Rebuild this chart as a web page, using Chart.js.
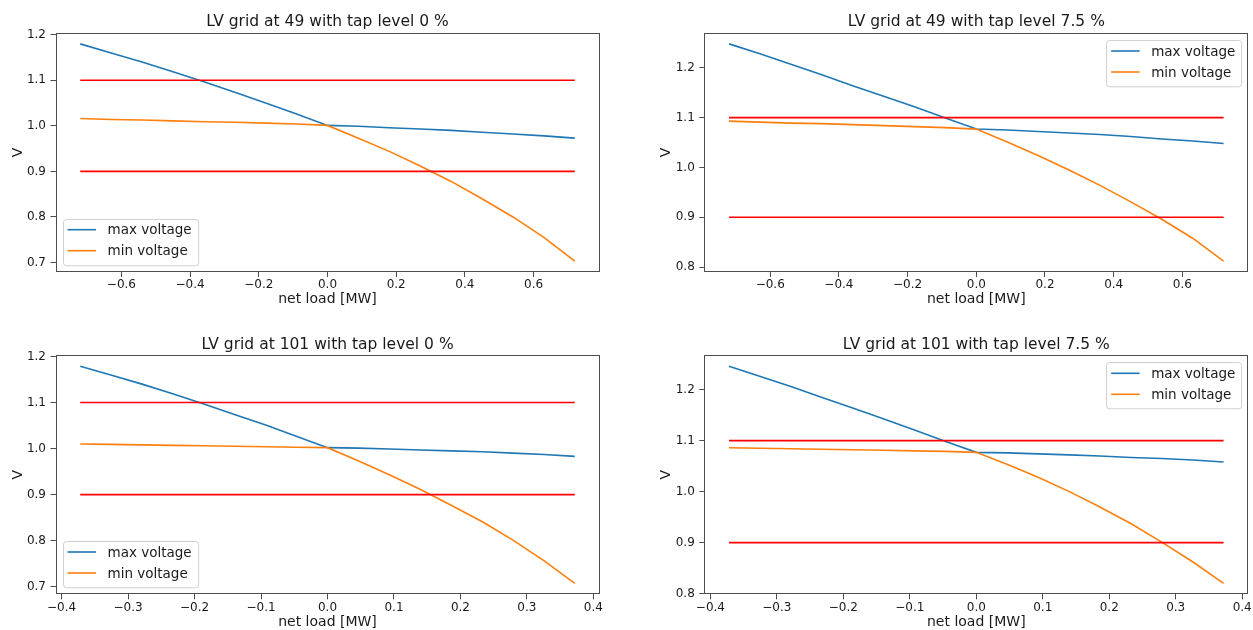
<!DOCTYPE html>
<html>
<head>
<meta charset="utf-8">
<title>LV grid voltage vs net load</title>
<script src="https://cdn.jsdelivr.net/npm/chart.js@4.4.1/dist/chart.umd.min.js"></script>
<style>
  html, body { margin: 0; padding: 0; background: #fff; }
  body { width: 1253px; height: 630px; position: relative; overflow: hidden; }
  canvas { position: absolute; }
</style>
</head>
<body>
<canvas id="c49_0"></canvas>
<canvas id="c49_75"></canvas>
<canvas id="c101_0"></canvas>
<canvas id="c101_75"></canvas>
<script>
// ------------------------- data -------------------------
const seriesNames = ['max voltage', 'min voltage'];
const limits = [1.1, 0.9];

const netLoad49 = [-0.72, -0.63, -0.54, -0.45, -0.36, -0.27, -0.18, -0.09, 0, 0.09, 0.18, 0.27, 0.36, 0.45, 0.54, 0.63, 0.72];
const maxV49tap0 = [1.180, 1.160, 1.140, 1.119, 1.097, 1.074, 1.050, 1.026, 1.001, 0.999, 0.996, 0.993, 0.990, 0.986, 0.982, 0.978, 0.973];
const minV49tap0 = [1.016, 1.014, 1.013, 1.011, 1.009, 1.008, 1.006, 1.004, 1.001, 0.973, 0.944, 0.912, 0.878, 0.840, 0.800, 0.755, 0.703];
const maxV49tap75 = [1.248, 1.228, 1.207, 1.186, 1.164, 1.143, 1.122, 1.099, 1.077, 1.075, 1.072, 1.069, 1.066, 1.062, 1.057, 1.053, 1.048];
const minV49tap75 = [1.093, 1.091, 1.089, 1.088, 1.086, 1.084, 1.082, 1.080, 1.077, 1.051, 1.024, 0.995, 0.964, 0.931, 0.896, 0.858, 0.812];

const netLoad101 = [-0.372, -0.326, -0.279, -0.233, -0.186, -0.140, -0.093, -0.047, 0, 0.047, 0.093, 0.140, 0.186, 0.233, 0.279, 0.326, 0.372];
const maxV101tap0 = [1.179, 1.160, 1.140, 1.119, 1.097, 1.074, 1.051, 1.027, 1.002, 1.001, 0.999, 0.997, 0.995, 0.993, 0.990, 0.987, 0.983];
const minV101tap0 = [1.010, 1.009, 1.008, 1.007, 1.006, 1.005, 1.004, 1.003, 1.002, 0.973, 0.943, 0.911, 0.877, 0.841, 0.801, 0.756, 0.707];
const maxV101tap75 = [1.246, 1.226, 1.206, 1.185, 1.164, 1.143, 1.121, 1.099, 1.077, 1.076, 1.074, 1.072, 1.070, 1.067, 1.065, 1.062, 1.058];
const minV101tap75 = [1.086, 1.085, 1.084, 1.083, 1.082, 1.081, 1.080, 1.079, 1.077, 1.053, 1.028, 1.000, 0.970, 0.937, 0.901, 0.862, 0.820];

const xTicks49 = [-0.6, -0.4, -0.2, 0, 0.2, 0.4, 0.6];
const xTicks101 = [-0.4, -0.3, -0.2, -0.1, 0, 0.1, 0.2, 0.3, 0.4];
const yTicksTap0 = [0.7, 0.8, 0.9, 1.0, 1.1, 1.2];
const yTicksTap75 = [0.8, 0.9, 1.0, 1.1, 1.2];

// ------------------------- look -------------------------
const BLUE = '#1f77b4', ORANGE = '#ff7f0e', RED = '#ff0000';
const TEXT = '#1a1a1a', AXIS = '#4d4d4d';
const FONT = "'DejaVu Sans', sans-serif";
Chart.defaults.font.family = FONT;
Chart.defaults.color = TEXT;

// layout of the 4 panels (canvas placement + fixed axis sizes)
const panels = [
    { id: 'c49_0',  left: 0,   top: 0,   w: 630, h: 315, title: 'LV grid at 49 with tap level 0 %',
      xs: netLoad49, maxV: maxV49tap0, minV: minV49tap0, xTicks: xTicks49, yTicks: yTicksTap0,
      legend: 'll', yAxisW: 55.5, padRight: 30.5, titlePad: { top: 12.4, bottom: 2 }, xAxisH: 43, xTitlePad: 9, yTitlePad: 10.9 },
    { id: 'c49_75', left: 630, top: 0,   w: 623, h: 315, title: 'LV grid at 49 with tap level 7.5 %',
      xs: netLoad49, maxV: maxV49tap75, minV: minV49tap75, xTicks: xTicks49, yTicks: yTicksTap75,
      legend: 'ur', yAxisW: 74.3, padRight: 4.7, titlePad: { top: 12.4, bottom: 2 }, xAxisH: 43, xTitlePad: 9, yTitlePad: 29.7 },
    { id: 'c101_0', left: 0,   top: 315, w: 630, h: 315, title: 'LV grid at 101 with tap level 0 %',
      xs: netLoad101, maxV: maxV101tap0, minV: minV101tap0, xTicks: xTicks101, yTicks: yTicksTap0,
      legend: 'll', yAxisW: 55.5, padRight: 30.5, titlePad: { top: 20.7, bottom: 1 }, xAxisH: 35.7, xTitlePad: 0.3, yTitlePad: 10.9 },
    { id: 'c101_75', left: 630, top: 315, w: 623, h: 315, title: 'LV grid at 101 with tap level 7.5 %',
      xs: netLoad101, maxV: maxV101tap75, minV: minV101tap75, xTicks: xTicks101, yTicks: yTicksTap75,
      legend: 'ur', yAxisW: 74.3, padRight: 4.7, titlePad: { top: 20.7, bottom: 1 }, xAxisH: 35.7, xTitlePad: 0.3, yTitlePad: 29.7 }
];

function fmtTick(v) {
    return v.toFixed(1).replace('-', '\u2212');
}

// frame around the plot area + matplotlib-like legend inside it
const boxPlugin = {
    id: 'boxPlugin',
    afterDatasetsDraw(chart, args, opts) {
        const ctx = chart.ctx;
        const a = chart.chartArea;
        ctx.save();
        ctx.strokeStyle = AXIS;
        ctx.lineWidth = 1;
        const l = Math.round(a.left) + 0.5, t = Math.round(a.top) + 0.5;
        const r = Math.round(a.right) - 0.5, b = Math.round(a.bottom) - 0.5;
        ctx.strokeRect(l, t, r - l, b - t);

        // legend
        const items = chart.data.datasets.filter(d => seriesNames.includes(d.label));
        ctx.font = '13.5px ' + FONT;
        const textW = Math.max(...items.map(d => ctx.measureText(d.label).width));
        const rowH = 21, padX = 5, lineLen = 28.5, gap = 11.5;
        const w = padX + lineLen + gap + textW + 6;
        const h = items.length * rowH + 4.3;
        const x = opts.corner === 'll' ? a.left + 7 : a.right - 7 - w;
        const y = opts.corner === 'll' ? a.bottom - 7 - h : a.top + 7;
        ctx.beginPath();
        ctx.roundRect(Math.round(x) + 0.5, Math.round(y) + 0.5, w, h, 3);
        ctx.fillStyle = 'rgba(255,255,255,0.8)';
        ctx.fill();
        ctx.strokeStyle = '#d0d0d0';
        ctx.stroke();
        ctx.textBaseline = 'middle';
        ctx.textAlign = 'left';
        items.forEach((d, i) => {
            const cy = y + 11 + i * rowH;
            ctx.beginPath();
            ctx.strokeStyle = d.borderColor;
            ctx.lineWidth = d.borderWidth;
            ctx.moveTo(x + padX, cy);
            ctx.lineTo(x + padX + lineLen, cy);
            ctx.stroke();
            ctx.fillStyle = TEXT;
            ctx.fillText(d.label, x + padX + lineLen + gap, cy + 1);
        });
        ctx.restore();
    }
};

function makePanel(p) {
    const cv = document.getElementById(p.id);
    cv.width = p.w;
    cv.height = p.h;
    cv.style.left = p.left + 'px';
    cv.style.top = p.top + 'px';

    // matplotlib style 5% margins around the data
    const allY = p.maxV.concat(p.minV, limits);
    const yLo = Math.min(...allY), yHi = Math.max(...allY);
    const xLo = p.xs[0], xHi = p.xs[p.xs.length - 1];
    const mx = (xHi - xLo) * 0.05, my = (yHi - yLo) * 0.05;

    const datasets = [
        { label: seriesNames[0], data: p.xs.map((x, i) => ({ x: x, y: p.maxV[i] })),
          borderColor: BLUE, borderWidth: 1.6, order: 2 },
        { label: seriesNames[1], data: p.xs.map((x, i) => ({ x: x, y: p.minV[i] })),
          borderColor: ORANGE, borderWidth: 1.6, order: 1 }
    ];
    limits.forEach(v => {
        datasets.push({ label: 'limit ' + v, data: [{ x: xLo, y: v }, { x: xHi, y: v }],
            borderColor: RED, borderWidth: 1.6, order: 0 });
    });

    new Chart(cv, {
        type: 'line',
        data: { datasets: datasets },
        options: {
            responsive: false,
            animation: false,
            devicePixelRatio: 1,
            events: [],
            elements: { point: { radius: 0 }, line: { fill: false, tension: 0 } },
            layout: { padding: { left: 0, right: p.padRight, top: 0, bottom: 0 } },
            plugins: {
                legend: { display: false },
                tooltip: { enabled: false },
                title: {
                    display: true, text: p.title, fullSize: false, color: TEXT,
                    font: { size: 15.5, weight: 'normal' }, padding: p.titlePad
                },
                boxPlugin: { corner: p.legend }
            },
            scales: {
                x: {
                    type: 'linear', min: xLo - mx, max: xHi + mx,
                    afterBuildTicks: s => { s.ticks = p.xTicks.map(v => ({ value: v })); },
                    afterFit: s => { s.height = p.xAxisH; },
                    ticks: { callback: v => fmtTick(v), font: { size: 12 }, padding: 1, maxRotation: 0, autoSkip: false, color: TEXT },
                    grid: { display: true, drawOnChartArea: false, drawTicks: true, tickLength: 5, color: AXIS },
                    border: { display: false },
                    title: { display: true, text: 'net load [MW]', color: TEXT,
                             font: { size: 14, lineHeight: 1 }, padding: { top: 0, bottom: p.xTitlePad } }
                },
                y: {
                    type: 'linear', min: yLo - my, max: yHi + my,
                    afterBuildTicks: s => { s.ticks = p.yTicks.map(v => ({ value: v })); },
                    afterFit: s => { s.width = p.yAxisW; },
                    ticks: { callback: v => fmtTick(v), font: { size: 12 }, padding: 4.5, autoSkip: false, color: TEXT },
                    grid: { display: true, drawOnChartArea: false, drawTicks: true, tickLength: 5, color: AXIS },
                    border: { display: false },
                    title: { display: true, text: 'V', color: TEXT,
                             font: { size: 14, lineHeight: 1 }, padding: { top: p.yTitlePad, bottom: 0 } }
                }
            }
        },
        plugins: [boxPlugin]
    });
}

panels.forEach(makePanel);
</script>
</body>
</html>
